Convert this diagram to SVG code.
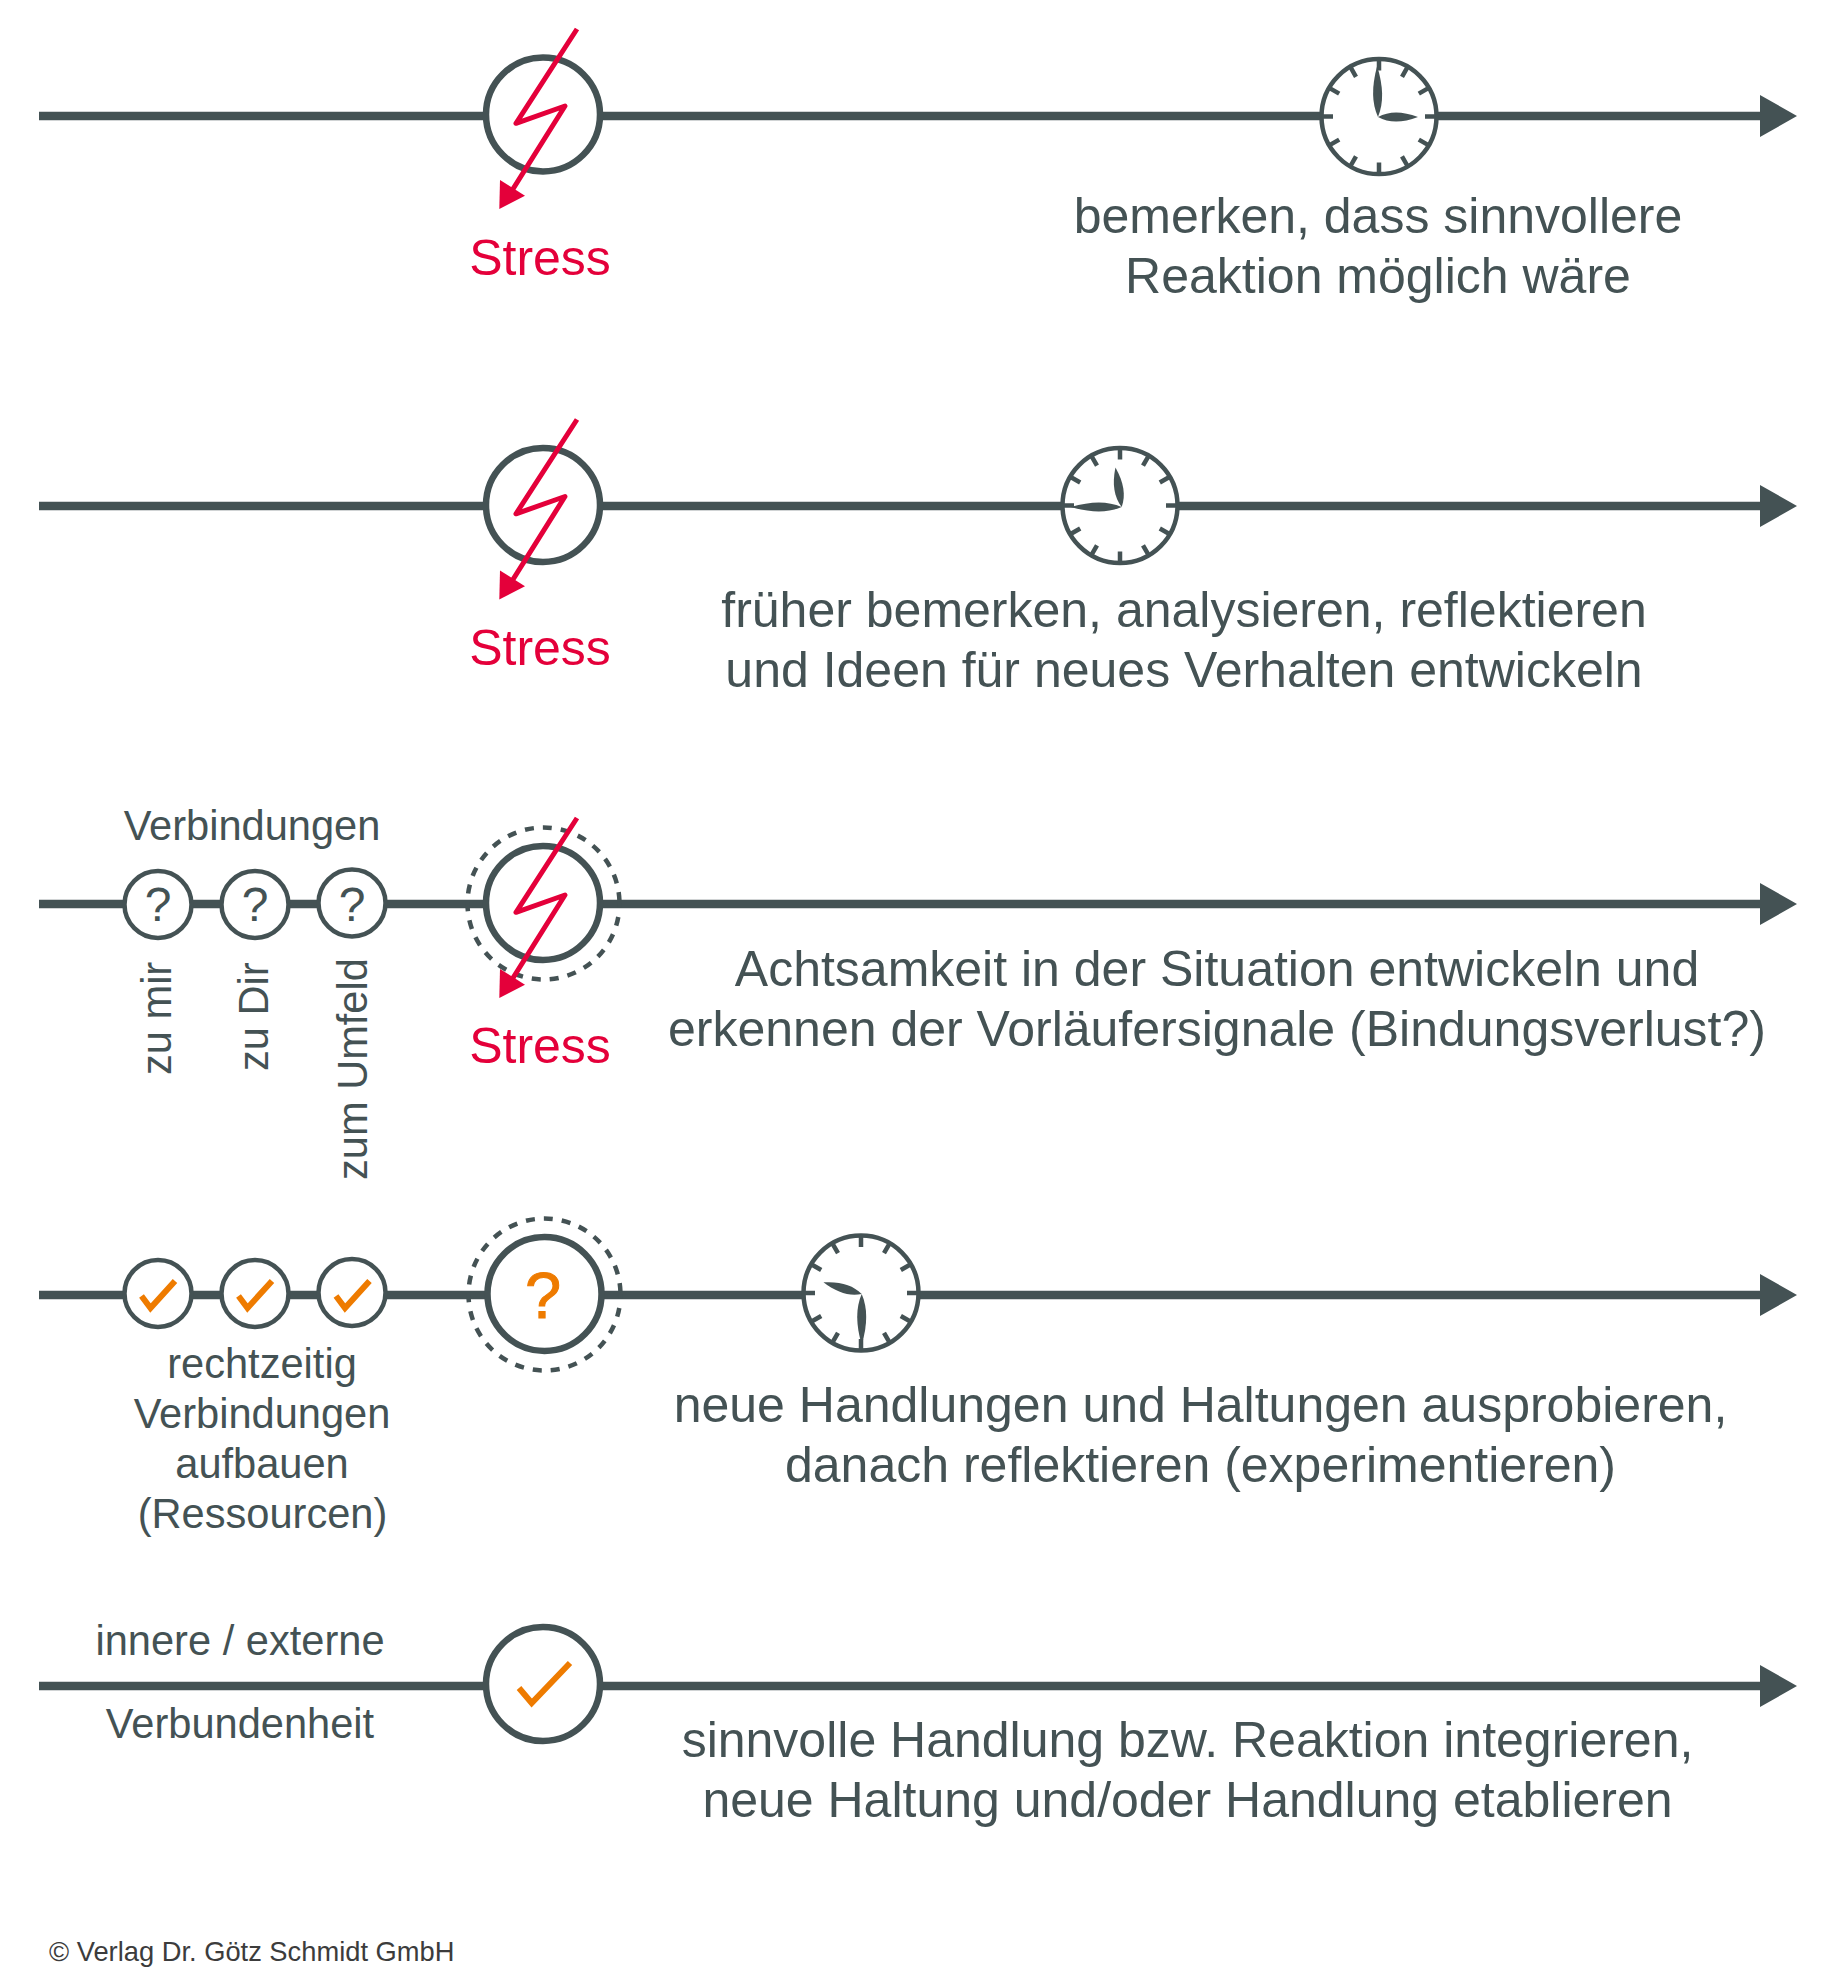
<svg xmlns="http://www.w3.org/2000/svg" width="1824" height="1968" viewBox="0 0 1824 1968">
<style>
text{font-family:"Liberation Sans",Arial,sans-serif;fill:#445254}
.b{font-size:50px;text-anchor:middle}
.m{font-size:41.6px;text-anchor:middle}
.q{font-size:48px;text-anchor:middle}
.s{fill:#e4003a;font-size:50px;text-anchor:middle}
.axis{stroke:#445254;stroke-width:8.5;fill:none}
.head{fill:#445254}
.big{fill:#fff;stroke:#445254;stroke-width:6.5}
.small{fill:#fff;stroke:#445254;stroke-width:4.5}
.dash{fill:none;stroke:#445254;stroke-width:4.5;stroke-dasharray:9 9.07;stroke-dashoffset:4.5}
.bolt{fill:none;stroke:#e4003a;stroke-width:5;stroke-linejoin:round}
.chk{fill:none;stroke:#ee7b00;stroke-width:6}
.face{fill:#fff;stroke:#445254;stroke-width:4.5}
.tick{stroke:#445254;stroke-width:4.5}
.hand{fill:#445254}
</style>
<defs>
<g id="boltshape">
<path class="bolt" d="M577 29L516 123.3L565 106L508 197"/>
<path d="M499.3 209L500 180L525 195.7Z" fill="#e4003a"/>
</g>
<g id="ticks">
<path class="tick" d="M0-57V-46M28.5-49.4L23-39.8M49.4-28.5L39.8-23M57 0H46M49.4 28.5L39.8 23M28.5 49.4L23 39.8M0 57V46M-28.5 49.4L-23 39.8M-49.4 28.5L-39.8 23M-57 0H-46M-49.4-28.5L-39.8-23M-28.5-49.4L-23-39.8"/>
</g>
<path id="minute" class="hand" d="M0 0C-6-14-6-30 0-51C6-30 6-14 0 0Z"/>
<path id="hour" class="hand" d="M0 0C-6-11-6-24 0-40C6-24 6-11 0 0Z"/>
</defs>
<g id="connectors">
<path class="axis" d="M39 116H1762M39 506H1762M39 904H1762M39 1295H1762M39 1686H1762"/>
<path class="head" d="M1760 95L1797 116L1760 137ZM1760 485L1797 506L1760 527ZM1760 883L1797 904L1760 925ZM1760 1274L1797 1295L1760 1316ZM1760 1665L1797 1686L1760 1707Z"/>
</g>
<g id="row1-stress">
<circle class="big" cx="543" cy="114.5" r="57"/>
<use href="#boltshape"/>
<text class="s" x="540" y="274.5">Stress</text>
</g>
<g id="row1-clock">
<circle class="face" cx="1379" cy="116.6" r="57.5"/>
<use href="#ticks" x="1379" y="116.6"/>
<use href="#minute" transform="translate(1378 117) rotate(-1)"/>
<use href="#hour" transform="translate(1378 117) rotate(90)"/>
<text class="b" x="1378" y="233">bemerken, dass sinnvollere</text>
<text class="b" x="1378" y="293">Reaktion möglich wäre</text>
</g>
<g id="row2-stress">
<circle class="big" cx="543" cy="505" r="57"/>
<use href="#boltshape" y="390.5"/>
<text class="s" x="540" y="665">Stress</text>
</g>
<g id="row2-clock">
<circle class="face" cx="1120" cy="505.5" r="57.5"/>
<use href="#ticks" x="1120" y="505.5"/>
<use href="#hour" transform="translate(1121.7 507) rotate(-9)"/>
<use href="#minute" transform="translate(1121.7 507) rotate(-90)"/>
<text class="b" x="1184" y="627">früher bemerken, analysieren, reflektieren</text>
<text class="b" x="1184" y="687">und Ideen für neues Verhalten entwickeln</text>
</g>
<g id="row3-stress">
<circle class="dash" cx="543.5" cy="903.5" r="76"/>
<circle class="big" cx="543" cy="903" r="57"/>
<use href="#boltshape" y="789"/>
<text class="s" x="540" y="1063">Stress</text>
</g>
<g id="row3-links">
<circle class="small" cx="158" cy="904.5" r="33.5"/>
<circle class="small" cx="255" cy="904.5" r="33.5"/>
<circle class="small" cx="352" cy="903" r="33.5"/>
<text class="q" x="158" y="921">?</text>
<text class="q" x="255" y="921">?</text>
<text class="q" x="352" y="921">?</text>
<text class="m" x="252" y="839.5">Verbindungen</text>
<text class="m" transform="translate(170.5 1075) rotate(-90)" style="text-anchor:start">zu mir</text>
<text class="m" transform="translate(267.5 1071) rotate(-90)" style="text-anchor:start">zu Dir</text>
<text class="m" transform="translate(366.5 1180) rotate(-90)" style="text-anchor:start">zum Umfeld</text>
</g>
<g id="row3-text">
<text class="b" x="1217" y="986">Achtsamkeit in der Situation entwickeln und</text>
<text class="b" x="1217" y="1046">erkennen der Vorläufersignale (Bindungsverlust?)</text>
</g>
<g id="row4-links">
<circle class="small" cx="158" cy="1293.5" r="33.5"/>
<circle class="small" cx="255" cy="1293.5" r="33.5"/>
<circle class="small" cx="352" cy="1292.5" r="33.5"/>
<path class="chk" d="M141.5 1296L150.5 1308L175 1281"/>
<path class="chk" d="M238.5 1296L247.5 1308L272 1281"/>
<path class="chk" d="M336 1296L345 1308L369.5 1281"/>
<text class="m" x="262" y="1377.5">rechtzeitig</text>
<text class="m" x="262" y="1427.5">Verbindungen</text>
<text class="m" x="262" y="1477.5">aufbauen</text>
<text class="m" x="262.5" y="1527.5">(Ressourcen)</text>
</g>
<g id="row4-question">
<circle class="dash" cx="544.5" cy="1294.5" r="76"/>
<circle class="big" cx="544.5" cy="1294" r="57"/>
<text x="543" y="1318" style="fill:#ee7b00;stroke:#ee7b00;stroke-width:1;font-size:65px;text-anchor:middle">?</text>
</g>
<g id="row4-clock">
<circle class="face" cx="861" cy="1293" r="57.5"/>
<use href="#ticks" x="861" y="1293"/>
<use href="#hour" transform="translate(861.7 1294) rotate(-73)"/>
<use href="#minute" transform="translate(861.7 1294) rotate(180)"/>
<text class="b" x="1200.5" y="1422">neue Handlungen und Haltungen ausprobieren,</text>
<text class="b" x="1200.5" y="1482">danach reflektieren (experimentieren)</text>
</g>
<g id="row5-check">
<circle class="big" cx="543" cy="1684" r="57"/>
<path class="chk" d="M519 1688L531.7 1703L570 1663"/>
<text class="m" x="240" y="1654.5">innere / externe</text>
<text class="m" x="240" y="1737.5">Verbundenheit</text>
<text class="b" x="1187.5" y="1757">sinnvolle Handlung bzw. Reaktion integrieren,</text>
<text class="b" x="1187.5" y="1817">neue Haltung und/oder Handlung etablieren</text>
</g>
<text id="copyright" x="49" y="1961" style="font-size:27.3px;fill:#3c3c3c">© Verlag Dr. Götz Schmidt GmbH</text>
</svg>
